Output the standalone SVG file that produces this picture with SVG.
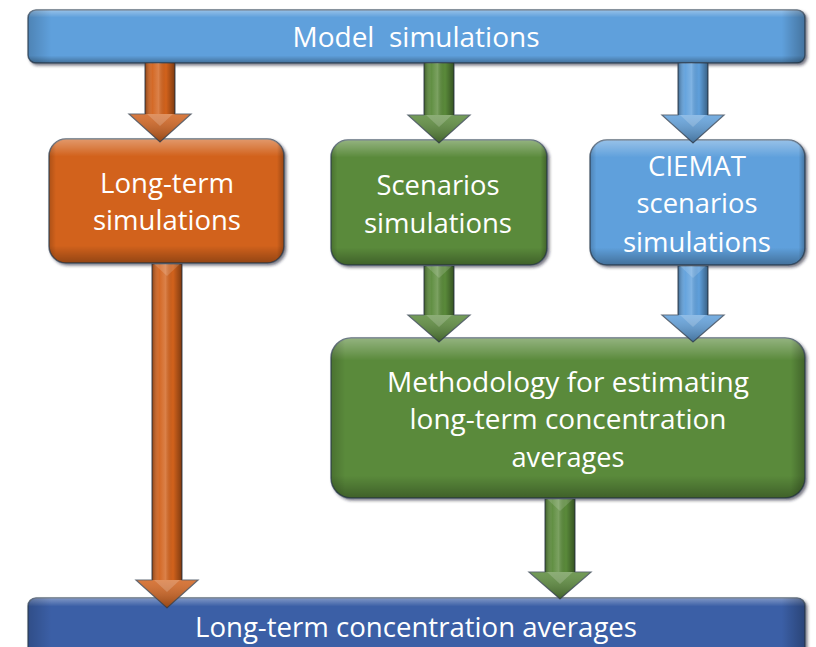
<svg xmlns="http://www.w3.org/2000/svg" width="816" height="647" viewBox="0 0 816 647">
<defs>
<linearGradient id="bevV" x1="0" y1="0" x2="0" y2="1">
<stop offset="0" stop-color="#fff" stop-opacity="0.35"/>
<stop offset="0.07" stop-color="#fff" stop-opacity="0.18"/>
<stop offset="0.14" stop-color="#fff" stop-opacity="0"/>
<stop offset="0.86" stop-color="#000" stop-opacity="0"/>
<stop offset="1" stop-color="#000" stop-opacity="0.3"/>
</linearGradient>
<linearGradient id="bevH" x1="0" y1="0" x2="1" y2="0">
<stop offset="0" stop-color="#000" stop-opacity="0.18"/>
<stop offset="0.03" stop-color="#000" stop-opacity="0"/>
<stop offset="0.97" stop-color="#000" stop-opacity="0"/>
<stop offset="1" stop-color="#000" stop-opacity="0.28"/>
</linearGradient>
<linearGradient id="shaft" x1="0" y1="0" x2="1" y2="0">
<stop offset="0" stop-color="#000" stop-opacity="0.35"/>
<stop offset="0.25" stop-color="#fff" stop-opacity="0.05"/>
<stop offset="0.45" stop-color="#fff" stop-opacity="0.2"/>
<stop offset="0.7" stop-color="#000" stop-opacity="0"/>
<stop offset="1" stop-color="#000" stop-opacity="0.4"/>
</linearGradient>
<linearGradient id="headG" x1="0" y1="0" x2="0" y2="1">
<stop offset="0" stop-color="#fff" stop-opacity="0.15"/>
<stop offset="1" stop-color="#000" stop-opacity="0.3"/>
</linearGradient>
<filter id="sh" x="-5%" y="-10%" width="115%" height="130%">
<feDropShadow dx="2" dy="2" stdDeviation="1.5" flood-color="#1a2430" flood-opacity="0.6"/>
</filter>
</defs>
<style>
.box{stroke:#34465a;stroke-opacity:0.75;stroke-width:1.5;filter:url(#sh)}
.bv{fill:url(#bevV)}
.bh{fill:url(#bevH)}
.t{font-family:"Open Sans","Liberation Sans",sans-serif;fill:#fff;text-anchor:middle;font-size:27px}
.pre{white-space:pre}
.sb{fill:url(#shaft)}
.hd{fill:url(#headG)}
.aro{stroke:#3a4656;stroke-opacity:0.8;stroke-width:1.2}
.orange{fill:#d2621c}
.green{fill:#5a8a3a}
.lblue{fill:#5fa0dc}
.dblue{fill:#3b5ea6}
</style>

<g id="model-simulations">
<rect class="box lblue" x="28" y="10" width="777" height="53" rx="8"/>
<rect class="bv" x="28" y="10" width="777" height="53" rx="8"/>
<rect class="bh" x="28" y="10" width="777" height="53" rx="8"/>
<text class="t pre" x="416" y="47" textLength="247" lengthAdjust="spacingAndGlyphs">Model  simulations</text>
</g>

<g id="long-term-simulations">
<rect class="box orange" x="49" y="139" width="235" height="124" rx="17"/>
<rect class="bv" x="49" y="139" width="235" height="124" rx="17"/>
<rect class="bh" x="49" y="139" width="235" height="124" rx="17"/>
<text class="t" x="167" y="193" textLength="134" lengthAdjust="spacingAndGlyphs">Long-term</text>
<text class="t" x="167" y="230" textLength="148" lengthAdjust="spacingAndGlyphs">simulations</text>
</g>

<g id="scenarios-simulations">
<rect class="box green" x="331" y="140" width="216" height="125" rx="17"/>
<rect class="bv" x="331" y="140" width="216" height="125" rx="17"/>
<rect class="bh" x="331" y="140" width="216" height="125" rx="17"/>
<text class="t" x="438" y="195" textLength="123" lengthAdjust="spacingAndGlyphs">Scenarios</text>
<text class="t" x="438" y="233" textLength="148" lengthAdjust="spacingAndGlyphs">simulations</text>
</g>

<g id="ciemat-scenarios-simulations">
<rect class="box lblue" x="590" y="140" width="215" height="125" rx="17"/>
<rect class="bv" x="590" y="140" width="215" height="125" rx="17"/>
<rect class="bh" x="590" y="140" width="215" height="125" rx="17"/>
<text class="t" x="697" y="176" textLength="98" lengthAdjust="spacingAndGlyphs">CIEMAT</text>
<text class="t" x="697" y="213" textLength="121" lengthAdjust="spacingAndGlyphs">scenarios</text>
<text class="t" x="697" y="252" textLength="148" lengthAdjust="spacingAndGlyphs">simulations</text>
</g>

<g id="methodology">
<rect class="box green" x="331" y="338" width="474" height="160" rx="20"/>
<rect class="bv" x="331" y="338" width="474" height="160" rx="20"/>
<rect class="bh" x="331" y="338" width="474" height="160" rx="20"/>
<text class="t" x="568" y="392" textLength="362" lengthAdjust="spacingAndGlyphs">Methodology for estimating</text>
<text class="t" x="568" y="429" textLength="317" lengthAdjust="spacingAndGlyphs">long-term concentration</text>
<text class="t" x="568" y="467" textLength="113" lengthAdjust="spacingAndGlyphs">averages</text>
</g>

<g id="long-term-concentration-averages">
<rect class="box dblue" x="28" y="598" width="777" height="60" rx="8"/>
<rect class="bv" x="28" y="598" width="777" height="60" rx="8"/>
<rect class="bh" x="28" y="598" width="777" height="60" rx="8"/>
<text class="t" x="416" y="637" textLength="442" lengthAdjust="spacingAndGlyphs">Long-term concentration averages</text>
</g>

<g id="connectors">
<g>
<path class="aro orange" d="M145,63 H175 V114 H191 L160,142 L129,114 H145 Z"/>
<rect class="sb" x="145" y="63" width="30" height="51"/>
<path class="hd" d="M129,114 H191 L160,142 Z"/>
<path d="M147,114 H173 L160,126 Z" fill="#fff" fill-opacity="0.18"/>
</g>
<g>
<path class="aro green" d="M424,63 H454 V115 H470 L439,143 L408,115 H424 Z"/>
<rect class="sb" x="424" y="63" width="30" height="52"/>
<path class="hd" d="M408,115 H470 L439,143 Z"/>
<path d="M426,115 H452 L439,127 Z" fill="#fff" fill-opacity="0.18"/>
</g>
<g>
<path class="aro lblue" d="M678,63 H708 V115 H724 L693,143 L662,115 H678 Z"/>
<rect class="sb" x="678" y="63" width="30" height="52"/>
<path class="hd" d="M662,115 H724 L693,143 Z"/>
<path d="M680,115 H706 L693,127 Z" fill="#fff" fill-opacity="0.18"/>
</g>
<g>
<path class="aro green" d="M424,266 H454 V315 H470 L439,342 L408,315 H424 Z"/>
<rect class="sb" x="424" y="266" width="30" height="49"/>
<path class="hd" d="M408,315 H470 L439,342 Z"/>
<path d="M426,315 H452 L439,327 Z" fill="#fff" fill-opacity="0.18"/>
<path d="M426,266 H452 L439,278 Z" fill="#fff" fill-opacity="0.15"/>
</g>
<g>
<path class="aro lblue" d="M678,266 H708 V315 H724 L693,342 L662,315 H678 Z"/>
<rect class="sb" x="678" y="266" width="30" height="49"/>
<path class="hd" d="M662,315 H724 L693,342 Z"/>
<path d="M680,315 H706 L693,327 Z" fill="#fff" fill-opacity="0.18"/>
<path d="M680,266 H706 L693,278 Z" fill="#fff" fill-opacity="0.15"/>
</g>
<g>
<path class="aro green" d="M545,499 H575 V572 H591 L560,599 L529,572 H545 Z"/>
<rect class="sb" x="545" y="499" width="30" height="73"/>
<path class="hd" d="M529,572 H591 L560,599 Z"/>
<path d="M547,572 H573 L560,584 Z" fill="#fff" fill-opacity="0.18"/>
<path d="M547,499 H573 L560,511 Z" fill="#fff" fill-opacity="0.15"/>
</g>
<g>
<path class="aro orange" d="M152,264 H182 V580 H198 L167,608 L136,580 H152 Z"/>
<rect class="sb" x="152" y="264" width="30" height="316"/>
<path class="hd" d="M136,580 H198 L167,608 Z"/>
<path d="M154,580 H180 L167,592 Z" fill="#fff" fill-opacity="0.18"/>
<path d="M154,264 H180 L167,276 Z" fill="#fff" fill-opacity="0.15"/>
</g>
</g>
</svg>
